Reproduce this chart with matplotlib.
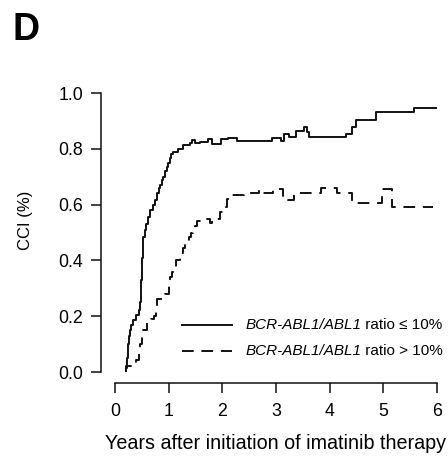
import matplotlib
matplotlib.use("Agg")
import matplotlib.pyplot as plt

plt.rcParams['font.family'] = ['Liberation Sans', 'DejaVu Sans']

# cumulative incidence, ratio <= 10% group (step times in years, values)
low_t = [0.20, 0.205, 0.22, 0.24, 0.26, 0.28, 0.30, 0.33, 0.40, 0.45, 0.47, 0.48,
         0.49, 0.50, 0.51, 0.52, 0.53, 0.55, 0.58, 0.62, 0.65, 0.70, 0.745, 0.78,
         0.82, 0.84, 0.88, 0.90, 0.93, 0.96, 0.99, 1.02, 1.05, 1.09, 1.18, 1.27,
         1.40, 1.44, 1.50, 1.58, 1.74, 1.80, 1.98, 2.10, 2.27, 2.92, 3.10, 3.15,
         3.24, 3.38, 3.52, 3.58, 3.62, 4.31, 4.41, 4.50, 4.86, 5.57]
low_v = [0.0, 0.014, 0.05, 0.10, 0.13, 0.15, 0.17, 0.186, 0.204, 0.222, 0.25, 0.29,
         0.33, 0.37, 0.41, 0.45, 0.485, 0.51, 0.53, 0.555, 0.58, 0.60, 0.617, 0.64,
         0.66, 0.67, 0.69, 0.70, 0.72, 0.736, 0.75, 0.766, 0.78, 0.79, 0.80, 0.813,
         0.82, 0.83, 0.82, 0.825, 0.834, 0.817, 0.834, 0.84, 0.828, 0.84, 0.828, 0.853,
         0.841, 0.865, 0.877, 0.861, 0.841, 0.853, 0.879, 0.903, 0.933, 0.945]
low_end = 5.99

# ratio > 10% group
high_t = [0.20, 0.21, 0.40, 0.44, 0.47, 0.50, 0.53, 0.59, 0.68, 0.72, 0.76, 0.78,
          0.87, 0.93, 1.01, 1.02, 1.06, 1.09, 1.14, 1.21, 1.26, 1.30, 1.37, 1.42,
          1.46, 1.50, 1.53, 1.61, 1.77, 1.80, 1.96, 2.03, 2.08, 2.12, 2.40, 2.51,
          2.68, 2.72, 2.94, 3.13, 3.23, 3.33, 3.83, 4.13, 4.41, 4.98, 5.17]
high_v = [0.0, 0.02, 0.043, 0.07, 0.10, 0.125, 0.15, 0.175, 0.19, 0.20, 0.23, 0.26,
          0.276, 0.28, 0.31, 0.34, 0.36, 0.377, 0.40, 0.426, 0.445, 0.46, 0.485, 0.50,
          0.51, 0.525, 0.54, 0.547, 0.535, 0.547, 0.575, 0.593, 0.62, 0.634, 0.638, 0.643,
          0.652, 0.64, 0.656, 0.625, 0.615, 0.64, 0.66, 0.64, 0.605, 0.656, 0.593]
high_end = 5.93

x_ticks = [0, 1, 2, 3, 4, 5, 6]
y_ticks = [0.0, 0.2, 0.4, 0.6, 0.8, 1.0]
gene = 'BCR-ABL1/ABL1'
suffixes = [' ratio ≤ 10%', ' ratio > 10%']

INK = '#111111'
LW = 1.4
DASH = (0, (6, 4))

fig = plt.figure(figsize=(4.48, 4.59), dpi=100)
ax = fig.add_axes([0.2567, 0.1895, 0.7187, 0.6078])

ax.step(low_t + [low_end], low_v + [low_v[-1]], where='post', color=INK, lw=LW)
ax.step(high_t + [high_end], high_v + [high_v[-1]], where='post', color=INK, lw=LW,
        linestyle=DASH)

ax.set_xlim(0, 6)
ax.set_ylim(0, 1)
ax.set_xticks(x_ticks)
ax.set_yticks(y_ticks)
ax.set_xticklabels([str(t) for t in x_ticks])
ax.set_yticklabels([f'{t:.1f}' for t in y_ticks])

for side in ['top', 'right']:
    ax.spines[side].set_visible(False)
ax.spines['left'].set_position(('outward', 10))
ax.spines['bottom'].set_position(('outward', 8))
ax.spines['left'].set_bounds(0, 1)
ax.spines['bottom'].set_bounds(0, 6)
for side in ['left', 'bottom']:
    ax.spines[side].set_linewidth(1.1)
    ax.spines[side].set_color(INK)

ax.tick_params(axis='both', length=7, width=1.1, color=INK, labelsize=12.8)
ax.tick_params(axis='y', pad=6)
ax.tick_params(axis='x', pad=7)

ax.set_ylabel('CCI (%)', fontsize=12)
ax.yaxis.set_label_coords(-0.255, 0.543)
ax.set_xlabel('Years after initiation of imatinib therapy', fontsize=14.2)
ax.xaxis.set_label_coords(0.5, -0.222)

# key: sample line, italic gene name, then plain ratio text
key_rows = [(0.168, 'solid'), (0.076, DASH)]
for (ky, ls), suffix in zip(key_rows, suffixes):
    ax.plot([0.208, 0.363], [ky, ky], transform=ax.transAxes, color=INK, lw=LW,
            linestyle=ls, clip_on=False)
    t1 = ax.text(0.404, ky, gene, transform=ax.transAxes, fontsize=11,
                 style='italic', va='center')
    ax.annotate(suffix, xy=(1, 0), xycoords=t1, fontsize=11, va='bottom')

fig.text(0.029, 0.913, 'D', fontsize=27, fontweight='bold', va='baseline')

fig.savefig('out.png', dpi=100)
